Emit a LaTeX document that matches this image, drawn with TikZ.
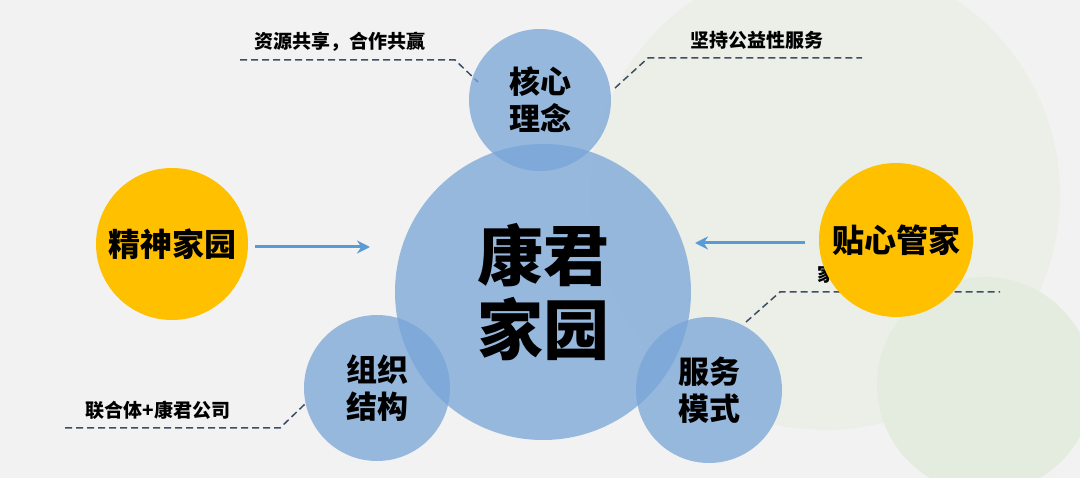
\documentclass[tikz,border=0pt]{standalone}
\usepackage{fontspec}
\setmainfont{Noto Sans CJK SC}
\usetikzlibrary{arrows.meta}
\definecolor{bg}{RGB}{242,242,242}
\definecolor{bgc}{RGB}{235,239,232}
\definecolor{bgc2}{RGB}{228,236,223}
\definecolor{bl}{RGB}{120,165,215}
\definecolor{arr}{RGB}{91,155,213}
\definecolor{yel}{RGB}{255,192,0}
\definecolor{leadcol}{RGB}{60,78,100}
\tikzset{
  bc/.style={circle,fill=bl,fill opacity=0.75,text opacity=1,font=\bfseries\fontsize{31}{37}\selectfont,align=center,inner sep=0pt},
  yc/.style={circle,fill=yel,font=\bfseries\fontsize{32}{36}\selectfont,inner sep=0pt},
  lead/.style={draw=leadcol,dash pattern=on 7pt off 4pt,line width=1.5pt},
  lab/.style={font=\bfseries\fontsize{19}{22}\selectfont},
  ar/.style={draw=arr,line width=3pt,-{Stealth[length=13pt,width=13pt]}}
}
\begin{document}
\begin{tikzpicture}[x=1pt,y=-1pt]
\fill[bg] (0,0) rectangle (1080,478);
\useasboundingbox (0,0) rectangle (1080,478);
\fill[bgc] (825,195) circle (235);
\fill[bgc2] (985,385) circle (108);
% leaders
\coordinate (a1) at (240,60); \coordinate (a2) at (455,60); \coordinate (a3) at (478,82);
\draw[lead] (a1)--(a2)--(a3);
\coordinate (b1) at (615,88); \coordinate (b2) at (648,58); \coordinate (b3) at (862,58);
\draw[lead] (b1)--(b2)--(b3);
\coordinate (c1) at (65,428); \coordinate (c2) at (280,428); \coordinate (c3) at (305,404);
\draw[lead] (c1)--(c2)--(c3);
\coordinate (d1) at (746,322); \coordinate (d2) at (780,292); \coordinate (d3) at (1000,292);
\draw[lead] (d1)--(d2)--(d3);
\node[lab] (la) at (340,42) {资源共享，合作共赢};
\node[lab] (lb) at (757,40) {坚持公益性服务};
\node[lab] (lc) at (158,410) {联合体+康君公司};
\node[lab,anchor=west] (ld) at (814,274) {家庭式服务};
% circles
\node[bc,minimum size=296pt,font=\bfseries\fontsize{66}{74}\selectfont] (c) at (543,292) {康君\\家园};
\node[bc,minimum size=142pt] (t) at (540,100) {核心\\理念};
\node[bc,minimum size=146pt] (l) at (377,388) {组织\\结构};
\node[bc,minimum size=146pt] (r) at (709,390) {服务\\模式};
\node[yc,minimum size=152pt] (yl) at (172,244) {精神家园};
\node[yc,minimum size=154pt] (yr) at (896,240) {贴心管家};
\coordinate (p1) at (255,247); \coordinate (p2) at (370,247);
\draw[ar] (p1)--(p2);
\coordinate (q1) at (805,243); \coordinate (q2) at (695,243);
\draw[ar] (q1)--(q2);
\end{tikzpicture}
\end{document}
